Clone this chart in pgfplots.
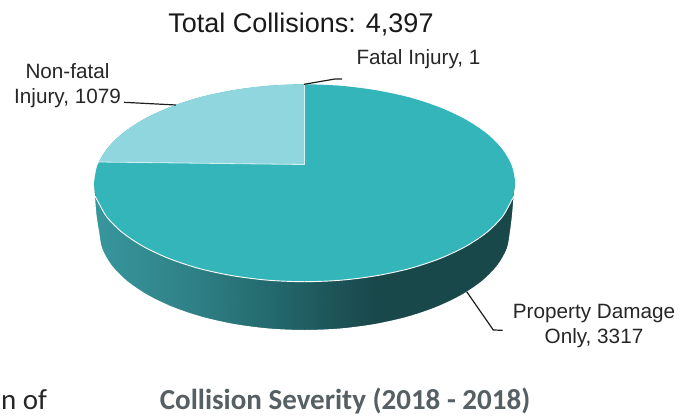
\documentclass[border=0pt]{standalone}
\usepackage{pgfplots}
\pgfplotsset{compat=1.18}
\usepackage{fontspec}
\setmainfont{Liberation Sans}
\newfontfamily\carlito{Carlito}

\definecolor{topteal}{RGB}{51,181,186}
\definecolor{lightteal}{RGB}{143,214,222}
\definecolor{leader}{RGB}{30,30,30}
\definecolor{caption}{RGB}{86,96,100}

\begin{document}
\begin{tikzpicture}
\useasboundingbox (0,0) rectangle (685pt,415pt);
\begin{axis}[
    at={(0,0)}, anchor=south west,
    scale only axis, width=685pt, height=415pt,
    xmin=0, xmax=685, ymin=0, ymax=415,
    y dir=reverse,
    hide axis, clip=false,
    colormap={side}{rgb255(0)=(56,152,158) rgb255(105)=(46,128,133) rgb255(185)=(35,104,108) rgb255(250)=(29,82,86) rgb255(285)=(25,72,75) rgb255(430)=(25,72,75)},
    point meta min=90, point meta max=520,
]

% side wall, shaded from left to right
\addplot[patch, patch type=rectangle, shader=interp, point meta=x] table {
x y
90 183
520 183
520 340
90 340
};
% everything below the rim of the wall goes back to the page colour
\addplot[fill=white, draw=none, smooth] coordinates {
(94.0,183.0) (95.0,197.0) (96.5,215.0) (99.0,231.0) (102.1,248.2) (111.4,264.9)
(126.5,280.5) (147.1,294.6) (172.4,306.8) (201.7,316.7) (234.2,324.0) (268.8,328.5)
(304.5,330.0) (340.2,328.5) (374.8,324.0) (407.3,316.7) (436.6,306.8) (461.9,294.6)
(482.5,280.5) (497.6,264.9) (506.9,248.2) (510.0,231.0) (512.0,215.0) (513.5,197.0)
(515.0,183.0)
} -- (axis cs:525,183) -- (axis cs:525,345) -- (axis cs:85,345) -- (axis cs:85,183) -- cycle;

% top face: Property Damage Only, 3317
\addplot[fill=topteal, draw=none, smooth] coordinates {
(94.0,183.0) (97.2,200.1) (106.7,216.8) (122.2,232.4) (143.2,246.4) (169.2,258.6)
(199.2,268.5) (232.5,275.7) (268.0,280.2) (304.5,281.7) (341.0,280.2) (376.5,275.7)
(409.8,268.5) (439.8,258.6) (465.8,246.4) (486.8,232.4) (502.3,216.8) (511.8,200.1)
(515.0,183.0) (511.8,165.9) (502.3,149.2) (486.8,133.6) (465.8,119.6) (439.8,107.4)
(409.8,97.5) (376.5,90.3) (341.0,85.8) (304.5,84.3) (268.0,85.8) (232.5,90.3)
(199.2,97.5) (169.2,107.4) (143.2,119.6) (122.2,133.6) (106.7,149.2) (97.2,165.9)
(94.0,183.0)
};

% top face: Non-fatal Injury, 1079
\addplot[fill=lightteal, draw=none, smooth] coordinates {
(98.7,162.0) (106.7,149.2) (122.2,133.6) (143.2,119.6) (169.2,107.4) (199.2,97.5)
(232.5,90.3) (268.0,85.8) (304.5,84.3)
} -- (axis cs:304.5,164.5) -- cycle;
\addplot[color=white, opacity=0.75, line width=0.8pt] coordinates {
(98.7,162.0) (304.5,164.5) (304.5,84.3)
};

% white rim along the front
\addplot[color=white, line width=0.9pt, smooth] coordinates {
(95.0,196.0) (97.2,200.1) (106.7,216.8) (122.2,232.4) (143.2,246.4) (169.2,258.6)
(199.2,268.5) (232.5,275.7) (268.0,280.2) (304.5,281.7) (341.0,280.2) (376.5,275.7)
(409.8,268.5) (439.8,258.6) (465.8,246.4) (486.8,232.4) (502.3,216.8) (511.8,200.1)
(514.0,196.0)
};

% leader lines
\addplot[color=leader, line width=1.2pt] coordinates {(124,102.3) (176,105)};
\addplot[color=leader, line width=1.2pt] coordinates {(304,84.3) (335,79) (342,79)};
\addplot[color=leader, line width=1.2pt] coordinates {(466.7,291.7) (493.3,330) (502.7,330.3)};

\node[anchor=base, text=black!90] at (axis cs:301,32) {\fontsize{27}{30}\selectfont Total Collisions: 4,397};
\node[anchor=base, text=black!85] at (axis cs:418.5,64) {\fontsize{20.7}{24}\selectfont Fatal Injury, 1};
\node[anchor=base, text=black!85] at (axis cs:67.5,78) {\fontsize{20.7}{24}\selectfont Non-fatal};
\node[anchor=base, text=black!85] at (axis cs:67.5,103) {\fontsize{20.7}{24}\selectfont Injury, 1079};
\node[anchor=base, text=black!85] at (axis cs:594,318.3) {\fontsize{20.7}{24}\selectfont Property Damage};
\node[anchor=base, text=black!85] at (axis cs:594,343.3) {\fontsize{20.7}{24}\selectfont Only, 3317};
\node[anchor=base, text=caption] at (axis cs:345,409) {\carlito\bfseries\fontsize{29}{32}\selectfont Collision Severity (2018 - 2018)};
\node[anchor=base, text=black!85] at (axis cs:24,409) {\carlito\fontsize{29}{32}\selectfont n of};
\end{axis}
\end{tikzpicture}
\end{document}
